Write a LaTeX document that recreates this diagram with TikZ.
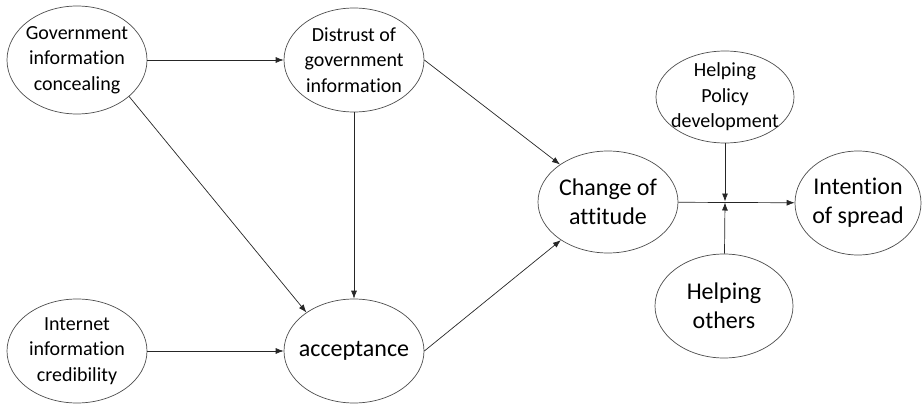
\documentclass[tikz,border=0pt]{standalone}
\usepackage{fontspec}
\setmainfont[Ligatures={NoCommon}]{Carlito}
\usepackage{tikz}
\usetikzlibrary{positioning,shapes.geometric,arrows.meta}

\begin{document}
\begin{tikzpicture}[x=1pt, y=-1pt,
		var/.style={ellipse, draw=black!70, line width=0.7pt, inner sep=0pt},
		small/.style={align=center, font=\fontsize{20}{25.5}\selectfont},
		big/.style={align=center, font=\fontsize{24}{29}\selectfont},
		arr/.style={draw=black!85, line width=0.7pt, -{Latex[length=8pt,width=6pt]}}]
		\useasboundingbox (0,0) rectangle (922,404);
		\node[var, minimum width=140pt, minimum height=108pt, label={[small]center:Government\\information\\concealing}] (1) at (77,60) {};
		\node[var, minimum width=140pt, minimum height=104pt, label={[small]center:Distrust of\\government\\information}] (2) at (354,60) {};
		\node[var, minimum width=140pt, minimum height=104pt, label={[small]center:Internet\\information\\credibility}] (3) at (77,351) {};
		\node[var, minimum width=140pt, minimum height=104pt, label={[big]center:acceptance}] (4) at (354,351) {};
		\node[var, minimum width=140pt, minimum height=102pt, label={[big]center:Change of\\attitude}] (5) at (608,202) {};
		\node[var, minimum width=138pt, minimum height=92pt, label={[small]center:Helping\\Policy\\development}] (6) at (725,97) {};
		\node[var, minimum width=126pt, minimum height=104pt, label={[big]center:Intention\\of spread}] (7) at (858,203) {};
		\node[var, minimum width=138pt, minimum height=104pt, label={[big]center:Helping\\others}] (8) at (724,306) {};
		\coordinate (j) at (725,202);
		
		\path (1) edge[arr] (2);
		\path (1.-35) edge[arr] (4.141);
		\path (2) edge[arr] (4);
		\path (3) edge[arr] (4);
		\path (2.east) edge[arr] (5.142);
		\path (4.east) edge[arr] (5.-141);
		\path (5) edge[arr] (7);
		\path (6) edge[arr, shorten >=0.5pt] (j);
		\path (8) edge[arr, shorten >=0.5pt] (j);
		
	\end{tikzpicture}
\end{document}
